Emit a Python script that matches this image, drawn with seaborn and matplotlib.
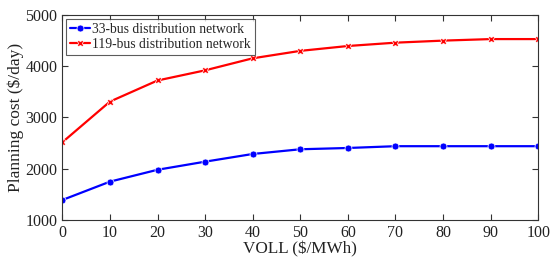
import matplotlib
matplotlib.use("Agg")
import matplotlib.pyplot as plt
import seaborn as sns
import pandas as pd

voll = [0, 10, 20, 30, 40, 50, 60, 70, 80, 90, 100]
cost_33 = [1390, 1748, 1980, 2138, 2288, 2380, 2405, 2440, 2440, 2440, 2440]
cost_119 = [2516, 3310, 3722, 3920, 4155, 4300, 4395, 4460, 4500, 4530, 4530]
series_names = ["33-bus distribution network", "119-bus distribution network"]
x_ticks = [0, 10, 20, 30, 40, 50, 60, 70, 80, 90, 100]
y_ticks = [1000, 2000, 3000, 4000, 5000]

df = pd.DataFrame({
    "VOLL": voll + voll,
    "cost": cost_33 + cost_119,
    "series": [series_names[0]] * len(voll) + [series_names[1]] * len(voll),
})

sns.set_style("ticks")
plt.rcParams["font.family"] = ["Liberation Serif", "DejaVu Serif"]
plt.rcParams["mathtext.fontset"] = "stix"

fig = plt.figure(figsize=(5.5, 2.64), dpi=100)
ax = fig.add_axes([0.1133, 0.1667, 0.8654, 0.7765])

sns.lineplot(data=df, x="VOLL", y="cost", hue="series", style="series",
             palette={series_names[0]: "#0000ff", series_names[1]: "#ff0000"},
             markers={series_names[0]: "o", series_names[1]: "X"},
             dashes=False, markersize=5, linewidth=1.6, ax=ax,
             markeredgewidth=0.5)

ax.set_xlim(0, 100)
ax.set_ylim(1000, 5000)
ax.set_xticks(x_ticks)
ax.set_yticks(y_ticks)
ax.tick_params(direction="in", top=True, right=True, length=4, width=0.8,
               labelsize=11.5, colors="#333333", labelcolor="#222222")
for s in ax.spines.values():
    s.set_visible(True)
    s.set_color("#333333")
    s.set_linewidth(0.8)
ax.set_xlabel("VOLL (\\$/MWh)", fontsize=12.3, color="#222222", labelpad=0)
ax.set_ylabel("Planning cost (\\$/day)", fontsize=12.5, color="#222222", labelpad=1)

leg = ax.legend(loc="upper left", fontsize=9.8, frameon=True, fancybox=False,
                edgecolor="#333333", borderpad=0.3, labelspacing=0.15,
                handlelength=1.4, handletextpad=0.2, borderaxespad=0.3)
leg.get_frame().set_linewidth(0.8)

fig.savefig("out.png", dpi=100)
